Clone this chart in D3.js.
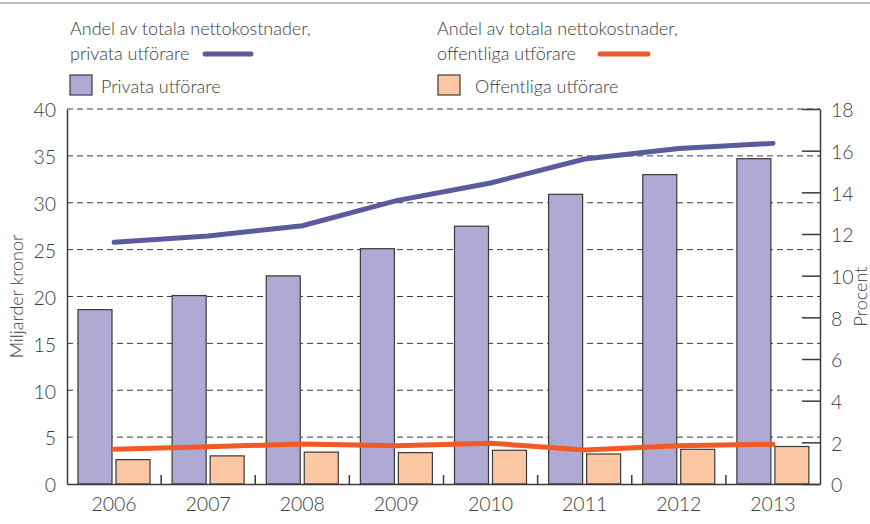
<!DOCTYPE html>
<html>
<head>
<meta charset="utf-8">
<script src="https://cdn.jsdelivr.net/npm/d3@7"></script>
<style>
  body { margin: 0; background: #fff; }
  text { font-family: Lato, "Open Sans", sans-serif; font-weight: 300; fill: #3c3c3c; }
</style>
</head>
<body>
<svg></svg>
<script>
const years = ["2006", "2007", "2008", "2009", "2010", "2011", "2012", "2013"];
const privataKr = [18.6, 20.1, 22.2, 25.1, 27.5, 30.9, 33.0, 34.7];
const offentligaKr = [2.6, 3.0, 3.4, 3.35, 3.6, 3.2, 3.7, 4.0];
const privataPct = [11.6, 11.9, 12.4, 13.6, 14.45, 15.6, 16.1, 16.35];
const offentligaPct = [1.67, 1.79, 1.92, 1.84, 1.96, 1.63, 1.84, 1.91];
const leftTicks = [0, 5, 10, 15, 20, 25, 30, 35, 40];
const rightTicks = [0, 2, 4, 6, 8, 10, 12, 14, 16, 18];

const width = 870, height = 524;
const svg = d3.select("svg").attr("width", width).attr("height", height);

const margin = { top: 109, right: 50, bottom: 40, left: 67 };
const plotL = margin.left, plotR = width - margin.right;
const plotT = margin.top, plotB = height - margin.bottom;

const x = d3.scaleBand().domain(years).range([plotL, plotR]);
const y = d3.scaleLinear().domain([0, 40]).range([plotB, plotT]);
const y2 = d3.scaleLinear().domain([0, 18]).range([plotB, plotT]);

const purple = "#aeaad3", purpleLine = "#5b5a9d";
const peach = "#fcc7a2", orange = "#f15a24";
const dark = "#3a3a3a";

// top rule
svg.append("line")
    .attr("x1", 0).attr("x2", width)
    .attr("y1", 3).attr("y2", 3)
    .attr("stroke", "#a8a298").attr("stroke-width", 1.5);

// gridlines
svg.append("g").selectAll("line")
    .data(leftTicks.filter(d => d > 0))
    .join("line")
    .attr("x1", plotL).attr("x2", plotR)
    .attr("y1", d => y(d)).attr("y2", d => y(d))
    .attr("stroke", dark).attr("stroke-width", 1)
    .attr("stroke-dasharray", "6,4");

// bars
const bw = 34;
svg.append("g").selectAll("rect")
    .data(years)
    .join("rect")
    .attr("x", d => x(d) + 11)
    .attr("y", (d, i) => y(privataKr[i]))
    .attr("width", bw)
    .attr("height", (d, i) => y(0) - y(privataKr[i]))
    .attr("fill", purple).attr("stroke", dark).attr("stroke-width", 1.2);

svg.append("g").selectAll("rect")
    .data(years)
    .join("rect")
    .attr("x", d => x(d) + 11 + bw + 4)
    .attr("y", (d, i) => y(offentligaKr[i]))
    .attr("width", bw)
    .attr("height", (d, i) => y(0) - y(offentligaKr[i]))
    .attr("fill", peach).attr("stroke", dark).attr("stroke-width", 1.2);

// lines
const line = d3.line()
    .x((d, i) => x(years[i]) + x.bandwidth() / 2)
    .y(d => y2(d));

svg.append("path").datum(privataPct)
    .attr("d", line).attr("fill", "none")
    .attr("stroke", purpleLine).attr("stroke-width", 5)
    .attr("stroke-linecap", "round");

svg.append("path").datum(offentligaPct)
    .attr("d", line).attr("fill", "none")
    .attr("stroke", orange).attr("stroke-width", 5)
    .attr("stroke-linecap", "round");

// left axis
const yAxis = svg.append("g")
    .attr("transform", `translate(${plotL},0)`)
    .call(d3.axisLeft(y).tickValues(leftTicks).tickSize(0).tickPadding(11));
yAxis.select(".domain").attr("stroke", dark).attr("stroke-width", 1.5);
yAxis.selectAll("text").style("font-size", "19.5px").attr("fill", dark).attr("dy", "0.4em");

// right axis
const y2Axis = svg.append("g")
    .attr("transform", `translate(${plotR},0)`)
    .call(d3.axisRight(y2).tickValues(rightTicks).tickSizeInner(-18).tickSizeOuter(0));
y2Axis.select(".domain").attr("stroke", dark).attr("stroke-width", 1.5);
y2Axis.selectAll(".tick line").attr("stroke", dark).attr("stroke-width", 1.5);
y2Axis.selectAll("text").style("font-size", "19.5px").attr("fill", dark).attr("dy", "0.4em")
    .attr("x", 11);

// bottom axis
const xAxis = svg.append("g")
    .attr("transform", `translate(0,${plotB})`)
    .call(d3.axisBottom(x).tickSize(0).tickPadding(13));
xAxis.select(".domain").attr("stroke", dark).attr("stroke-width", 1.5);
xAxis.selectAll("text").style("font-size", "19.5px").attr("fill", dark);

svg.append("g").selectAll("line")
    .data(years.slice(1))
    .join("line")
    .attr("x1", d => x(d)).attr("x2", d => x(d))
    .attr("y1", plotB).attr("y2", plotB - 9)
    .attr("stroke", dark).attr("stroke-width", 1.5);

// axis titles
svg.append("text")
    .attr("transform", `translate(23,${(plotT + plotB) / 2}) rotate(-90)`)
    .attr("text-anchor", "middle")
    .style("font-size", "18px")
    .text("Miljarder kronor");

svg.append("text")
    .attr("transform", `translate(867,${(plotT + plotB) / 2}) rotate(-90)`)
    .attr("text-anchor", "middle")
    .style("font-size", "18px")
    .text("Procent");

// legend
const lg = svg.append("g").style("font-size", "18px");

lg.append("text").attr("x", 70).attr("y", 35).text("Andel av totala nettokostnader,");
lg.append("text").attr("x", 70).attr("y", 60).text("privata utförare");
lg.append("line").attr("x1", 205).attr("x2", 251).attr("y1", 54).attr("y2", 54)
    .attr("stroke", purpleLine).attr("stroke-width", 5).attr("stroke-linecap", "round");

lg.append("text").attr("x", 437).attr("y", 35).text("Andel av totala nettokostnader,");
lg.append("text").attr("x", 437).attr("y", 60).text("offentliga utförare");
lg.append("line").attr("x1", 600).attr("x2", 648).attr("y1", 54).attr("y2", 54)
    .attr("stroke", orange).attr("stroke-width", 5).attr("stroke-linecap", "round");

lg.append("rect").attr("x", 70).attr("y", 75).attr("width", 22).attr("height", 20)
    .attr("fill", purple).attr("stroke", dark).attr("stroke-width", 1.2);
lg.append("text").attr("x", 101).attr("y", 93).text("Privata utförare");

lg.append("rect").attr("x", 438).attr("y", 75).attr("width", 22).attr("height", 20)
    .attr("fill", peach).attr("stroke", dark).attr("stroke-width", 1.2);
lg.append("text").attr("x", 475).attr("y", 93).text("Offentliga utförare");
</script>
</body>
</html>
